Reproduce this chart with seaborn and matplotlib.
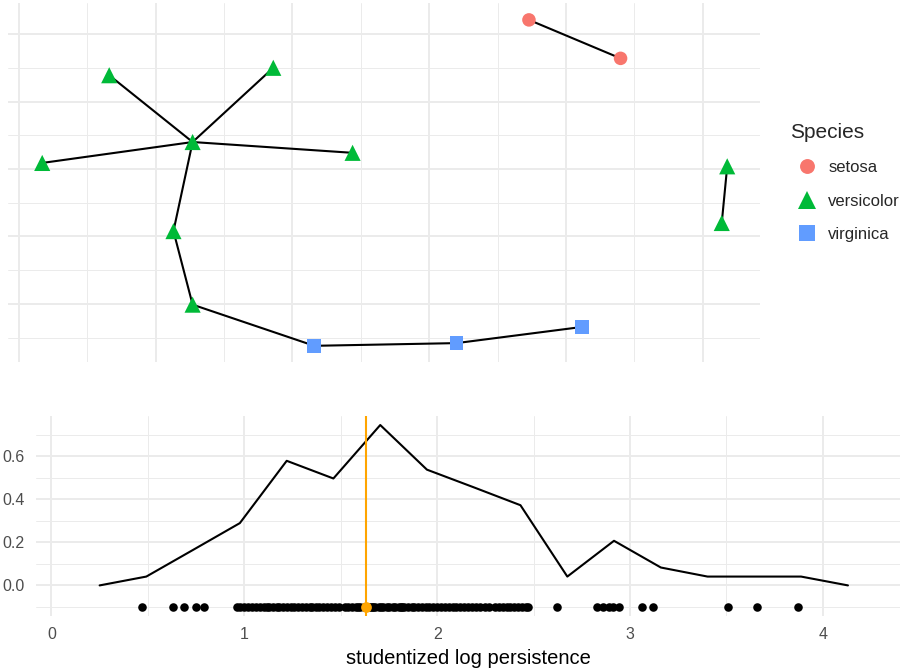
import numpy as np
import pandas as pd
import matplotlib.pyplot as plt
import seaborn as sns

# graph nodes (layout coordinates)
node_x = [3.73, 4.40, 0.66, 1.86, 1.27, 0.17, 2.44, 1.13, 1.27, 5.18, 5.14, 2.16, 3.20, 4.12]
node_y = [4.21, 3.64, 3.39, 3.50, 2.40, 2.09, 2.24, 1.08, -0.01, 2.04, 1.20, -0.62, -0.58, -0.34]
node_species = ['setosa', 'setosa',
                'versicolor', 'versicolor', 'versicolor', 'versicolor', 'versicolor',
                'versicolor', 'versicolor', 'versicolor', 'versicolor',
                'virginica', 'virginica', 'virginica']
edge_from = [0, 4, 4, 4, 4, 4, 7, 8, 11, 12, 9]
edge_to = [1, 2, 3, 5, 6, 7, 8, 11, 12, 13, 10]

# persistence density (frequency polygon)
bin_centers = [0.250, 0.492, 0.735, 0.977, 1.220, 1.462, 1.705, 1.947, 2.190,
               2.432, 2.675, 2.917, 3.160, 3.402, 3.645, 3.887, 4.130]
density = [0.0, 0.041, 0.165, 0.289, 0.578, 0.496, 0.744, 0.537, 0.455,
           0.372, 0.041, 0.207, 0.083, 0.041, 0.041, 0.041, 0.0]
persistence = [0.47, 0.63, 0.69, 0.75, 0.79,
               0.96, 0.98, 1.00, 1.02, 1.04, 1.06, 1.08,
               1.10, 1.12, 1.13, 1.15, 1.17, 1.18, 1.20, 1.22, 1.24, 1.26, 1.28, 1.30, 1.32, 1.34,
               1.35, 1.37, 1.39, 1.41, 1.43, 1.45, 1.47, 1.49, 1.52, 1.54, 1.56, 1.58,
               1.59, 1.60, 1.62, 1.64, 1.65, 1.66, 1.67, 1.68, 1.70, 1.71, 1.72, 1.74,
               1.75, 1.77, 1.78, 1.80, 1.81, 1.82,
               1.83, 1.85, 1.87, 1.88, 1.90, 1.92, 1.94, 1.96, 1.98, 2.00, 2.02, 2.04, 2.06,
               2.08, 2.10, 2.12, 2.14, 2.16, 2.18, 2.20, 2.22, 2.25, 2.27, 2.30,
               2.32, 2.34, 2.36, 2.38, 2.40, 2.42, 2.44, 2.46, 2.47,
               2.62, 2.83, 2.86, 2.89, 2.91, 2.945, 3.06, 3.12, 3.51, 3.66, 3.87]
selected = 1.633

palette = {'setosa': '#F8766D', 'versicolor': '#00BA38', 'virginica': '#619CFF'}
markers = {'setosa': 'o', 'versicolor': '^', 'virginica': 's'}
sizes = {'setosa': 95, 'versicolor': 135, 'virginica': 100}

nodes = pd.DataFrame({'x': node_x, 'y': node_y, 'Species': node_species})
rows = []
for i, (a, b) in enumerate(zip(edge_from, edge_to)):
    rows.append({'edge': i, 'x': node_x[a], 'y': node_y[a]})
    rows.append({'edge': i, 'x': node_x[b], 'y': node_y[b]})
edges = pd.DataFrame(rows)

sns.set_theme(style='whitegrid')
plt.rcParams['font.family'] = ['Liberation Sans', 'DejaVu Sans']

fig = plt.figure(figsize=(9.02, 6.72), dpi=100)
ax1 = fig.add_axes([0.0089, 0.4613, 0.8337, 0.5342])
ax2 = fig.add_axes([0.0399, 0.0833, 0.9579, 0.2977])

grid_col = '#EBEBEB'

# --- top: graph
sns.lineplot(data=edges, x='x', y='y', units='edge', estimator=None, sort=False,
             color='black', linewidth=1.5, ax=ax1)
sns.scatterplot(data=nodes, x='x', y='y', hue='Species', style='Species', size='Species',
                palette=palette, markers=markers, sizes=sizes, linewidth=0,
                ax=ax1, zorder=3)
ax1.set_xlim(-0.08, 5.42)
ax1.set_ylim(-0.86, 4.46)
ax1.set_xticks(np.arange(0, 6, 1))
ax1.set_xticks(np.arange(0.5, 5.5, 1), minor=True)
ax1.set_yticks(np.arange(0, 5, 1))
ax1.set_yticks(np.arange(-0.5, 4.5, 1), minor=True)
ax1.set_xticklabels([])
ax1.set_yticklabels([])
ax1.set_xlabel('')
ax1.set_ylabel('')
sns.move_legend(ax1, 'upper left', bbox_to_anchor=(1.02, 0.708), frameon=False,
                title='Species', fontsize=12, title_fontsize=15,
                handletextpad=0.3, labelspacing=1.1, markerscale=1.1)
ax1.get_legend()._legend_box.align = 'left'

# --- bottom: persistence
sns.lineplot(x=bin_centers, y=density, color='black', linewidth=1.5, ax=ax2)
sns.scatterplot(x=persistence, y=[-0.1] * len(persistence), color='black', s=38,
                linewidth=0, ax=ax2, zorder=3)
ax2.axvline(selected, color='#FFA500', linewidth=1.5, zorder=4)
sns.scatterplot(x=[selected], y=[-0.1], color='#FFA500', s=60, linewidth=0, ax=ax2, zorder=5)
ax2.set_xlim(-0.08, 4.40)
ax2.set_ylim(-0.142, 0.786)
ax2.set_xticks([0, 1, 2, 3, 4])
ax2.set_xticks(np.arange(0.5, 4.5, 1), minor=True)
ax2.set_yticks([0.0, 0.2, 0.4, 0.6])
ax2.set_yticks([-0.1, 0.1, 0.3, 0.5, 0.7], minor=True)
ax2.set_yticklabels(['0.0', '0.2', '0.4', '0.6'])
ax2.set_xlabel('studentized log persistence', fontsize=14.5, color='black', labelpad=5)
ax2.set_ylabel('')

for ax in (ax1, ax2):
    ax.set_facecolor('white')
    for s in ax.spines.values():
        s.set_visible(False)
    ax.grid(which='major', color=grid_col, linewidth=1.4)
    ax.grid(which='minor', color=grid_col, linewidth=0.7)
    ax.tick_params(which='both', length=0, labelsize=11.5, labelcolor='#4D4D4D')
    ax.set_axisbelow(True)

ax2.tick_params(axis='x', pad=8)
ax2.tick_params(axis='y', pad=8)

fig.savefig('out.png', dpi=100, facecolor='white')
